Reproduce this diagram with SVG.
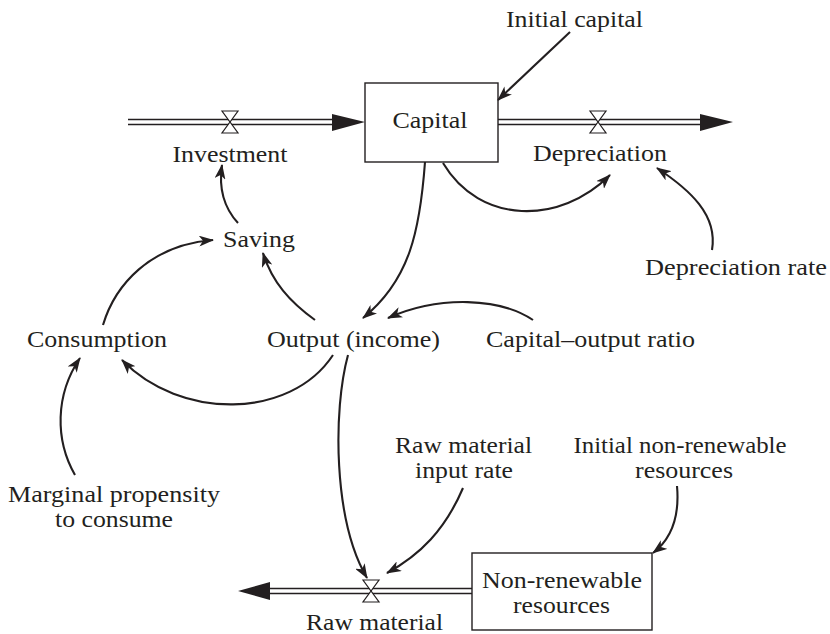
<svg xmlns="http://www.w3.org/2000/svg" width="830" height="634" viewBox="0 0 830 634">
  <style>
    text { font-size: 22.5px; fill: #231f20; text-anchor: middle; }
    .stock { fill: #ffffff; stroke: #231f20; stroke-width: 1.4; }
    .pipe { fill: none; stroke: #231f20; stroke-width: 1.3; }
    .valve { fill: #ffffff; stroke: #231f20; stroke-width: 1.2; }
    .head { fill: #231f20; }
    .link { fill: none; stroke: #231f20; stroke-width: 2.1; marker-end: url(#arrow); }
  </style>
  <defs>
    <marker id="arrow" markerUnits="userSpaceOnUse" viewBox="0 0 15 11" refX="14" refY="5.5" markerWidth="15" markerHeight="11" orient="auto">
      <path d="M0,0 L15,5.5 L0,11 L4,5.5 z" fill="#231f20"/>
    </marker>
    <!-- flow valve: two triangles meeting at the centre -->
    <path id="valve" class="valve" d="M-8,-11 L8,-11 L0,0 Z M-8,11 L8,11 L0,0 Z"/>
  </defs>

  <g font-family="Liberation Serif, Times New Roman, serif">
  <!-- Flows (double-line pipes with valves) -->
  <g id="flow-investment">
    <line class="pipe" x1="128" y1="119.5" x2="336" y2="119.5"/>
    <line class="pipe" x1="128" y1="124.5" x2="336" y2="124.5"/>
    <path class="head" d="M332,114 L365,122 L332,131 Z"/>
    <use href="#valve" x="230" y="122"/>
    <text x="230" y="162" textLength="115" lengthAdjust="spacingAndGlyphs">Investment</text>
  </g>

  <g id="flow-depreciation">
    <line class="pipe" x1="498" y1="119.5" x2="704" y2="119.5"/>
    <line class="pipe" x1="498" y1="124.5" x2="704" y2="124.5"/>
    <path class="head" d="M700,114 L733,122 L700,131 Z"/>
    <use href="#valve" x="598" y="122"/>
    <text x="600" y="161" textLength="134" lengthAdjust="spacingAndGlyphs">Depreciation</text>
  </g>

  <g id="flow-raw-material">
    <line class="pipe" x1="266" y1="588.5" x2="472" y2="588.5"/>
    <line class="pipe" x1="266" y1="593.5" x2="472" y2="593.5"/>
    <path class="head" d="M270,582 L238,591 L270,600 Z"/>
    <use href="#valve" x="371" y="591"/>
    <text x="374.5" y="630" textLength="137" lengthAdjust="spacingAndGlyphs">Raw material</text>
  </g>

  <!-- Stocks -->
  <g id="capital">
    <rect class="stock" x="365" y="83" width="133" height="79"/>
    <text x="430" y="128" textLength="75" lengthAdjust="spacingAndGlyphs">Capital</text>
  </g>

  <g id="non-renewable-resources">
    <rect class="stock" x="472" y="553" width="180" height="77"/>
    <text x="562" y="588" textLength="160" lengthAdjust="spacingAndGlyphs">Non-renewable</text>
    <text x="561.5" y="613" textLength="97" lengthAdjust="spacingAndGlyphs">resources</text>
  </g>

  <!-- Auxiliaries and constants -->
  <g id="initial-capital">
    <text x="574.5" y="27" textLength="137" lengthAdjust="spacingAndGlyphs">Initial capital</text>
  </g>
  <g id="depreciation-rate">
    <text x="736" y="275" textLength="182" lengthAdjust="spacingAndGlyphs">Depreciation rate</text>
  </g>
  <g id="saving">
    <text x="259" y="247" textLength="72" lengthAdjust="spacingAndGlyphs">Saving</text>
  </g>
  <g id="consumption">
    <text x="97" y="347" textLength="140" lengthAdjust="spacingAndGlyphs">Consumption</text>
  </g>
  <g id="output">
    <text x="353.5" y="347" textLength="173" lengthAdjust="spacingAndGlyphs">Output (income)</text>
  </g>
  <g id="capital-output-ratio">
    <text x="590.5" y="347" textLength="209" lengthAdjust="spacingAndGlyphs">Capital–output ratio</text>
  </g>
  <g id="marginal-propensity">
    <text x="114" y="502" textLength="212" lengthAdjust="spacingAndGlyphs">Marginal propensity</text>
    <text x="114" y="527" textLength="118" lengthAdjust="spacingAndGlyphs">to consume</text>
  </g>
  <g id="raw-material-input-rate">
    <text x="463.5" y="453" textLength="137" lengthAdjust="spacingAndGlyphs">Raw material</text>
    <text x="464" y="478" textLength="98" lengthAdjust="spacingAndGlyphs">input rate</text>
  </g>
  <g id="initial-non-renewable">
    <text x="680" y="453" textLength="213" lengthAdjust="spacingAndGlyphs">Initial non-renewable</text>
    <text x="684" y="478" textLength="98" lengthAdjust="spacingAndGlyphs">resources</text>
  </g>
  </g>

  <!-- Causal links -->
  <g id="connectors">
    <path class="link" d="M570,32 L498,100"/>
    <path class="link" d="M238,223 C226,210 218,192 222,165"/>
    <path class="link" d="M103,325 C115,285 150,245 213,240"/>
    <path class="link" d="M315,320 C290,302 272,282 263,253"/>
    <path class="link" d="M425,162 C420,230 410,280 363,318"/>
    <path class="link" d="M443,163 C480,225 560,225 610,175"/>
    <path class="link" d="M712,250 C718,215 690,190 657,168"/>
    <path class="link" d="M533,320 C500,298 440,295 388,318"/>
    <path class="link" d="M333,355 C290,420 180,420 122,360"/>
    <path class="link" d="M75,475 C55,440 55,395 80,358"/>
    <path class="link" d="M348,355 C333,410 333,520 367,578"/>
    <path class="link" d="M463,488 C445,530 420,555 387,573"/>
    <path class="link" d="M677,486 C680,520 670,540 653,553"/>
  </g>
</svg>
